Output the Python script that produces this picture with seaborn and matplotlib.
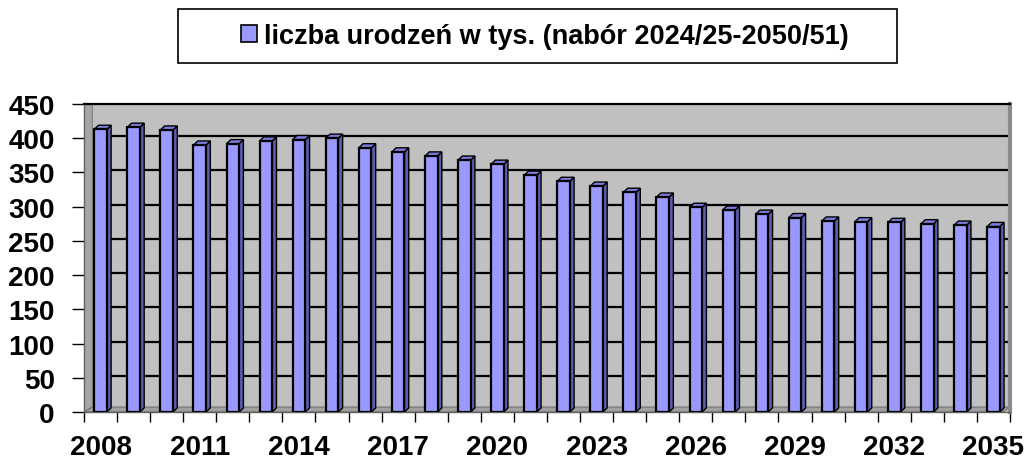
import matplotlib
matplotlib.use("Agg")
import matplotlib.pyplot as plt
import seaborn as sns
import pandas as pd
import numpy as np
from matplotlib.patches import Polygon, Rectangle

years = list(range(2008, 2036))
births = [413, 416, 412, 390, 392, 396, 398, 400, 386, 380, 374, 368, 362,
          346, 337, 330, 321, 314, 299, 295, 289, 284, 279, 278, 277, 275, 273, 271]
yticks = list(range(0, 451, 50))
label_years = [2008, 2011, 2014, 2017, 2020, 2023, 2026, 2029, 2032, 2035]
legend_label = "liczba urodzeń w tys. (nabór 2024/25-2050/51)"

sns.set_theme(style="white")
plt.rcParams["font.family"] = ["Liberation Sans", "DejaVu Sans"]
plt.rcParams["font.weight"] = "bold"
plt.rcParams["text.color"] = "black"
plt.rcParams["xtick.color"] = "black"
plt.rcParams["ytick.color"] = "black"

FRONT = "#9999FF"
SIDE = "#5C5CB0"
TOP = "#7B7BDC"
WALL = "#C0C0C0"

df = pd.DataFrame({"year": [str(y) for y in years], "births": births})

fig = plt.figure(figsize=(10.29, 4.60), dpi=100)
ax = fig.add_axes([84 / 1029, 47 / 460, (1010 - 84) / 1029, (413 - 105) / 460])
ax.set_facecolor(WALL)

sns.barplot(data=df, x="year", y="births", color=FRONT, width=0.38,
            edgecolor="black", linewidth=1.6, saturation=1, ax=ax, zorder=3)

ax.set_xlim(-0.5, len(years) - 0.5)
ax.set_ylim(0, 450)

# pseudo-3D depth for each bar, derived from the bar patches
dx, dy = 0.13, 6.0
for p in list(ax.patches):
    x0, y0 = p.get_x(), p.get_y()
    w, h = p.get_width(), p.get_height()
    side = Polygon([(x0 + w, y0), (x0 + w + dx, y0 + dy), (x0 + w + dx, y0 + h + dy), (x0 + w, y0 + h)],
                   closed=True, facecolor=SIDE, edgecolor="black", linewidth=1.0, zorder=2.9)
    top = Polygon([(x0, y0 + h), (x0 + dx, y0 + h + dy), (x0 + w + dx, y0 + h + dy), (x0 + w, y0 + h)],
                  closed=True, facecolor=TOP, edgecolor="black", linewidth=1.0, zorder=2.9)
    ax.add_patch(side)
    ax.add_patch(top)

# walls / floor decoration
ax.add_patch(Polygon([(0, 0), (0.009, 0.016), (0.009, 1), (0, 1)], closed=True,
                     transform=ax.transAxes, facecolor="#A6A6A6", edgecolor="#808080",
                     linewidth=0.8, zorder=1.5))
ax.add_patch(Polygon([(0, 0), (0.009, 0.016), (1, 0.016), (0.992, 0)], closed=True,
                     transform=ax.transAxes, facecolor="#A0A0A0", edgecolor="#707070",
                     linewidth=0.8, zorder=1.5))

# gridlines on back wall
for v in yticks[1:-1]:
    ax.plot([0.009, 1], [v + 3, v + 3], transform=ax.get_yaxis_transform(),
            color="black", linewidth=1.6, zorder=1)

ax.set_yticks(yticks)
ax.set_yticklabels([str(v) for v in yticks], fontsize=20, fontweight="bold", color="black")
idx = [years.index(y) for y in label_years]
ax.set_xticks(idx)
ax.set_xticklabels([str(y) for y in label_years], fontsize=20, fontweight="bold", color="black")
ax.set_xticks([i - 0.5 for i in range(len(years) + 1)], minor=True)
ax.tick_params(axis="x", which="major", length=0, pad=16)
ax.tick_params(axis="x", which="minor", length=7, width=1.0, color="black", bottom=True)
ax.tick_params(axis="y", length=9, width=1.0, color="black", left=True, pad=12)
ax.set_xlabel("")
ax.set_ylabel("")

ax.spines["top"].set_color("black")
ax.spines["top"].set_linewidth(1.6)
ax.spines["left"].set_color("#606060")
ax.spines["left"].set_linewidth(1.0)
ax.spines["bottom"].set_color("#606060")
ax.spines["bottom"].set_linewidth(1.0)
ax.spines["right"].set_color("#8A8A8A")
ax.spines["right"].set_linewidth(3)

# legend with boxed frame
fig.add_artist(Rectangle((178 / 1029, 1 - 64 / 460), (897 - 178) / 1029, 54 / 460,
                         transform=fig.transFigure, facecolor="white", edgecolor="black",
                         linewidth=1.2))
handle = Rectangle((0, 0), 1, 1, facecolor=FRONT, edgecolor="black", linewidth=1.2)
leg = fig.legend([handle], [legend_label], loc="center", bbox_to_anchor=(545 / 1029, 1 - 37 / 460),
                 frameon=False, prop={"size": 19.5, "weight": "bold"},
                 handlelength=0.6, handleheight=0.6, handletextpad=0.25)
for t in leg.get_texts():
    t.set_color("black")

fig.savefig("out.png", dpi=100, facecolor="white")
